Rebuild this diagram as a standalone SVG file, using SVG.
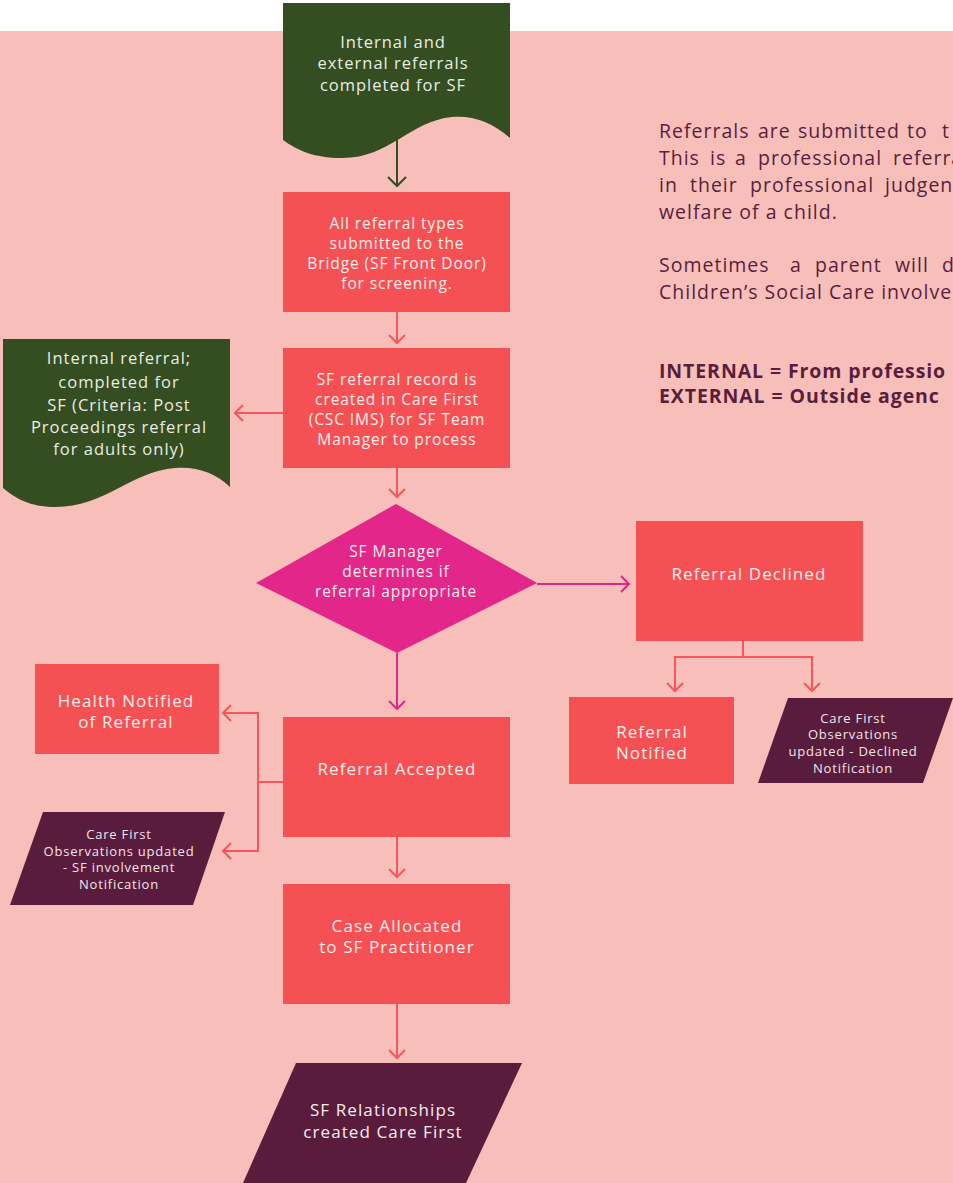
<svg xmlns="http://www.w3.org/2000/svg" width="953" height="1183" viewBox="0 0 953 1183">
<style>
text{font-family:"Open Sans","Liberation Sans",sans-serif;text-anchor:middle}
.lt{fill:#FBEDEA;font-size:15.5px;letter-spacing:0.9px}
.lg{fill:#FBEDEA;font-size:17px;letter-spacing:1.1px}
.gt{fill:#E9EEE2;font-size:16.5px;letter-spacing:1px}
.sm{fill:#F3E4EA;font-size:13px;letter-spacing:0.8px}
.para{fill:#5A1E3C;font-size:19.5px;letter-spacing:1px;text-anchor:start}
.bold{font-weight:bold;letter-spacing:0.9px}
.red{fill:#F55155}
.grn{fill:#344D21}
.pur{fill:#5A1C3C}
.mag{fill:#E2268A}
.con{fill:none;stroke:#F5575A;stroke-width:2}
</style>
<defs>
<marker id="ar" markerUnits="userSpaceOnUse" markerWidth="20" markerHeight="20" refX="0" refY="0" viewBox="-10 -10 20 20" orient="auto" overflow="visible">
<path d="M-8,-8 L0,0 L-8,8" fill="none" stroke="#F5575A" stroke-width="2"/>
</marker>
<marker id="arg" markerUnits="userSpaceOnUse" markerWidth="20" markerHeight="20" refX="0" refY="0" viewBox="-10 -10 20 20" orient="auto" overflow="visible">
<path d="M-9,-9 L0,0 L-9,9" fill="none" stroke="#344D21" stroke-width="2"/>
</marker>
<marker id="arm" markerUnits="userSpaceOnUse" markerWidth="20" markerHeight="20" refX="0" refY="0" viewBox="-10 -10 20 20" orient="auto" overflow="visible">
<path d="M-8,-8 L0,0 L-8,8" fill="none" stroke="#E2268A" stroke-width="2"/>
</marker>
</defs>
<rect x="0" y="0" width="953" height="1183" fill="#FFFFFF"/>
<rect x="0" y="31" width="953" height="1152" fill="#F7BEBA"/>

<g id="connectors">
<path d="M397,140 V186" fill="none" stroke="#344D21" stroke-width="2" marker-end="url(#arg)"/>
<path class="con" d="M397,312 V343" marker-end="url(#ar)"/>
<path class="con" d="M283,413 H235" marker-end="url(#ar)"/>
<path class="con" d="M397,468 V497" marker-end="url(#ar)"/>
<path d="M537,584 H629" fill="none" stroke="#E2268A" stroke-width="2" marker-end="url(#arm)"/>
<path d="M397,653 V709" fill="none" stroke="#E2268A" stroke-width="2" marker-end="url(#arm)"/>
<path class="con" d="M743,641 V657"/>
<path class="con" d="M743,657 H675 V691" marker-end="url(#ar)"/>
<path class="con" d="M743,657 H812 V691" marker-end="url(#ar)"/>
<path class="con" d="M283,782 H258"/>
<path class="con" d="M258,782 V713 H223" marker-end="url(#ar)"/>
<path class="con" d="M258,782 V851 H223" marker-end="url(#ar)"/>
<path class="con" d="M397,837 V877" marker-end="url(#ar)"/>
<path class="con" d="M397,1004 V1058" marker-end="url(#ar)"/>
</g>

<g id="node-referrals-completed">
<path class="grn" d="M283,3 H510 V138 C492,122 472,115 452,117 C410,121 390,158 342,158 C313,158 297,150 283,140 Z"/>
<text class="gt"><tspan x="393" y="48">Internal and</tspan><tspan x="393" y="69">external referrals</tspan><tspan x="393" y="91">completed for SF</tspan></text>
</g>

<g id="node-submitted">
<rect class="red" x="283" y="192" width="227" height="120"/>
<text class="lt"><tspan x="397" y="229">All referral types</tspan><tspan x="397" y="249">submitted to the</tspan><tspan x="397" y="269">Bridge (SF Front Door)</tspan><tspan x="397" y="289">for screening.</tspan></text>
</g>

<g id="node-record-created">
<rect class="red" x="283" y="348" width="227" height="120"/>
<text class="lt"><tspan x="397" y="385">SF referral record is</tspan><tspan x="397" y="405">created in Care First</tspan><tspan x="397" y="425">(CSC IMS) for SF Team</tspan><tspan x="397" y="445">Manager to process</tspan></text>
</g>

<g id="node-internal-referral">
<path class="grn" d="M3,339 H230 V487 C215,472 195,466 175,468 C130,472 105,507 55,507 C30,507 15,498 3,488 Z"/>
<text class="gt"><tspan x="119" y="364">Internal referral;</tspan><tspan x="119" y="388">completed for</tspan><tspan x="119" y="411">SF (Criteria: Post</tspan><tspan x="119" y="433">Proceedings referral</tspan><tspan x="119" y="455">for adults only)</tspan></text>
</g>

<g id="node-decision">
<polygon class="mag" points="396,504 537,583 397,653 256,583"/>
<text class="lt"><tspan x="396" y="557">SF Manager</tspan><tspan x="396" y="577">determines if</tspan><tspan x="396" y="597">referral appropriate</tspan></text>
</g>

<g id="node-declined">
<rect class="red" x="636" y="521" width="227" height="120"/>
<text class="lg" x="749" y="580">Referral Declined</text>
</g>

<g id="node-referral-notified">
<rect class="red" x="569" y="697" width="165" height="87"/>
<text class="lg"><tspan x="652" y="738">Referral</tspan><tspan x="652" y="759">Notified</tspan></text>
</g>

<g id="node-declined-notification">
<polygon class="pur" points="788,698 953,698 923,783 758,783"/>
<text class="sm"><tspan x="853" y="723">Care First</tspan><tspan x="853" y="739">Observations</tspan><tspan x="853" y="756">updated - Declined</tspan><tspan x="853" y="773">Notification</tspan></text>
</g>

<g id="node-accepted">
<rect class="red" x="283" y="717" width="227" height="120"/>
<text class="lg" x="397" y="775">Referral Accepted</text>
</g>

<g id="node-health-notified">
<rect class="red" x="35" y="664" width="184" height="90"/>
<text class="lg"><tspan x="126" y="707">Health Notified</tspan><tspan x="126" y="728">of Referral</tspan></text>
</g>

<g id="node-involvement-notification">
<polygon class="pur" points="43,812 225,812 193,905 10,905"/>
<text class="sm"><tspan x="119" y="839">Care First</tspan><tspan x="119" y="856">Observations updated</tspan><tspan x="119" y="872">- SF involvement</tspan><tspan x="119" y="889">Notification</tspan></text>
</g>

<g id="node-case-allocated">
<rect class="red" x="283" y="884" width="227" height="120"/>
<text class="lg"><tspan x="397" y="932">Case Allocated</tspan><tspan x="397" y="953">to SF Practitioner</tspan></text>
</g>

<g id="node-relationships">
<polygon class="pur" points="296,1063 522,1063 466,1183 243,1183"/>
<text class="lg"><tspan x="383" y="1116">SF Relationships</tspan><tspan x="383" y="1138">created Care First</tspan></text>
</g>

<g id="info-text">
<text class="para"><tspan x="659" y="138">Referrals</tspan><tspan x="758" y="138">are</tspan><tspan x="798" y="138">submitted</tspan><tspan x="907" y="138">to</tspan><tspan x="942" y="138">t</tspan></text>
<text class="para"><tspan x="659" y="165">This</tspan><tspan x="710" y="165">is</tspan><tspan x="735" y="165">a</tspan><tspan x="758" y="165">professional</tspan><tspan x="893" y="165">referra</tspan></text>
<text class="para"><tspan x="659" y="192">in</tspan><tspan x="690" y="192">their</tspan><tspan x="750" y="192">professional</tspan><tspan x="885" y="192">judgen</tspan></text>
<text class="para" x="659" y="219">welfare of a child.</text>
<text class="para"><tspan x="659" y="272">Sometimes</tspan><tspan x="790" y="272">a</tspan><tspan x="815" y="272">parent</tspan><tspan x="895" y="272">will</tspan><tspan x="942" y="272">d</tspan></text>
<text class="para" x="659" y="299">Children’s Social Care involve</text>
<text class="para bold" x="659" y="378">INTERNAL = From professio</text>
<text class="para bold" x="659" y="403">EXTERNAL = Outside agenc</text>
</g>
</svg>
